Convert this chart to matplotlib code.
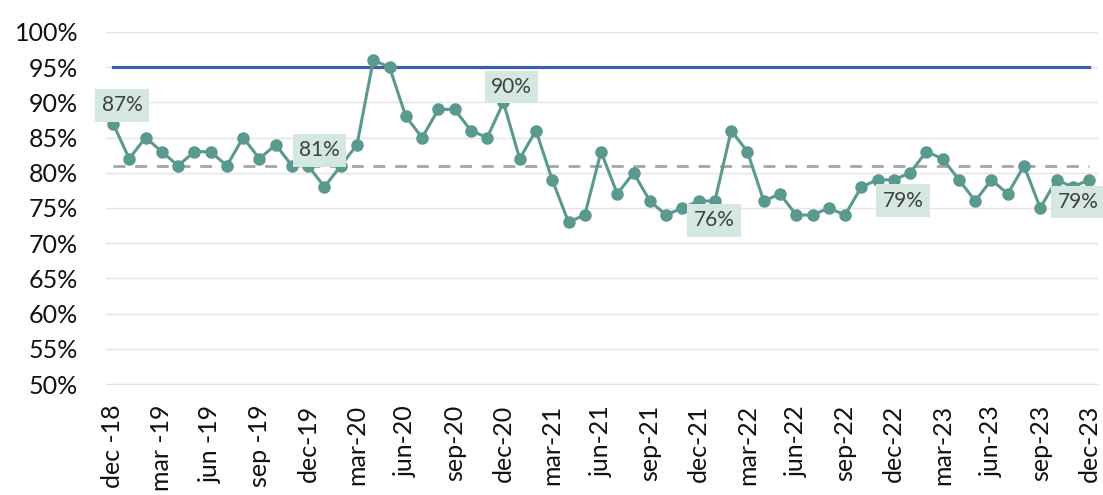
import matplotlib
matplotlib.use("Agg")
import matplotlib.pyplot as plt
from matplotlib.ticker import FuncFormatter

months = ["jan", "feb", "mar", "apr", "may", "jun", "jul", "aug", "sep", "oct", "nov", "dec"]
# monthly periods dec-18 .. dec-23
periods = ["dec-18"] + [f"{m}-{y}" for y in range(19, 24) for m in months]
values = [87, 82, 85, 83, 81, 83, 83, 81, 85, 82, 84, 81,
          81, 78, 81, 84, 96, 95, 88, 85, 89, 89, 86, 85,
          90, 82, 86, 79, 73, 74, 83, 77, 80, 76, 74, 75,
          76, 76, 86, 83, 76, 77, 74, 74, 75, 74, 78, 79,
          79, 80, 83, 82, 79, 76, 79, 77, 81, 75, 79, 78,
          79]
target = 95
average = 80.9
tick_labels = ["dec -18", "mar -19", "jun -19", "sep -19", "dec-19", "mar-20", "jun-20",
               "sep-20", "dec-20", "mar-21", "jun-21", "sep-21", "dec-21", "mar-22",
               "jun-22", "sep-22", "dec-22", "mar-23", "jun-23", "sep-23", "dec-23"]
labelled = ["dec-18", "dec-19", "dec-20", "dec-21", "dec-22", "dec-23"]

plt.rcParams['font.family'] = ['Lato', 'DejaVu Sans']

fig = plt.figure(figsize=(11.03, 4.95), dpi=100)
ax = fig.add_axes([0.0961, 0.2242, 0.8994, 0.7112])

x = list(range(len(values)))
line_c = "#5a9a8e"
ax.plot(x, [target] * len(x), color="#3f5ea8", lw=2.3, zorder=2)
ax.plot(x, [average] * len(x), color="#a6a6a6", lw=2, ls=(0, (4.3, 3.5)), zorder=2)
ax.plot(x, values, color=line_c, lw=2.2, marker="o", ms=8, zorder=3)

# label offsets in points (style, not data)
offsets = [(6.5, 13), (8, 11), (6, 11), (11, -14), (6.5, -15), (-8, -16)]
for p, off in zip(labelled, offsets):
    i = periods.index(p)
    v = values[i]
    ax.annotate(f"{v}%", (i, v), xytext=off,
                textcoords="offset points", ha="center", va="center", fontsize=15, color="#404040",
                bbox=dict(boxstyle="square,pad=0.3", fc="#d4e8df", ec="none"), zorder=4,
                annotation_clip=False)

ax.set_ylim(50, 100)
ax.set_xlim(-0.43, 60.55)
ax.set_yticks(range(50, 101, 5))
ax.yaxis.set_major_formatter(FuncFormatter(lambda v, _: f"{int(v)}%"))
ax.set_xticks(range(0, 61, 3))
ax.set_xticklabels(tick_labels, rotation=90)
ax.tick_params(axis="both", length=0, labelsize=18, colors="#111111")
ax.tick_params(axis="y", pad=20)
ax.tick_params(axis="x", pad=15)
ax.grid(axis="y", color="#e4e4e4", lw=1)
ax.set_axisbelow(True)
for s in ["top", "right", "left"]:
    ax.spines[s].set_visible(False)
ax.spines["bottom"].set_color("#e0e0e0")

fig.savefig("out.png", dpi=100)
